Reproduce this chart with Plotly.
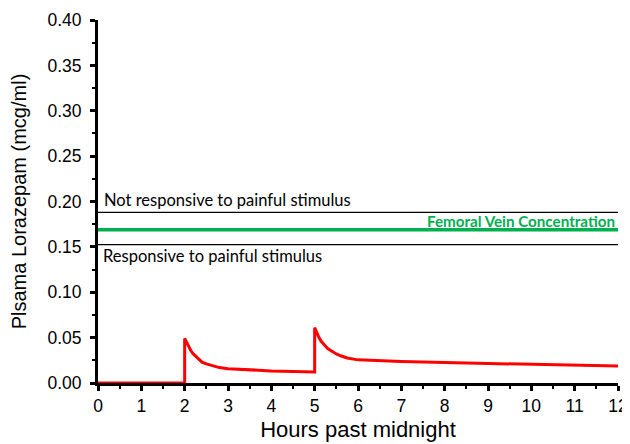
import plotly.graph_objects as go

# Plasma lorazepam concentration (mcg/ml) vs hours past midnight
hours = [0, 2, 2, 2.05, 2.1, 2.15, 2.2, 2.3, 2.4, 2.5, 2.6, 2.7, 2.8, 3.0, 3.5,
         4.0, 4.5, 5.0,
         5.0, 5.05, 5.1, 5.15, 5.2, 5.3, 5.4, 5.5, 5.6, 5.75, 6.0, 6.5, 7, 8, 9,
         10, 11, 12]
conc = [0, 0, 0.049, 0.044, 0.039, 0.035, 0.032, 0.027, 0.023, 0.021, 0.0195,
        0.018, 0.017, 0.0158, 0.0142, 0.0133, 0.0127, 0.0122,
        0.061, 0.055, 0.050, 0.046, 0.043, 0.038, 0.035, 0.032, 0.030, 0.0276,
        0.0255, 0.0243, 0.0236, 0.0225, 0.0214, 0.0204, 0.0195, 0.0186]

x_span = [0, 12]
upper_threshold = 0.188
femoral_conc = 0.169
lower_threshold = 0.1525

y_ticks = [0, 0.05, 0.10, 0.15, 0.20, 0.25, 0.30, 0.35, 0.40]
x_ticks = list(range(0, 13))

fig = go.Figure()
fig.add_trace(go.Scatter(x=x_span, y=[upper_threshold] * 2, mode="lines",
                         line=dict(color="#000000", width=1.3), hoverinfo="skip"))
fig.add_trace(go.Scatter(x=x_span, y=[lower_threshold] * 2, mode="lines",
                         line=dict(color="#000000", width=1.3), hoverinfo="skip"))
fig.add_trace(go.Scatter(x=x_span, y=[femoral_conc] * 2, mode="lines",
                         line=dict(color="#00B050", width=3.5), hoverinfo="skip"))
fig.add_trace(go.Scatter(x=hours, y=conc, mode="lines",
                         line=dict(color="#FF0000", width=3)))

ann_font = dict(family="Lato, Open Sans, sans-serif", size=16.5, color="#000000")
fig.add_annotation(x=0, y=upper_threshold, xref="x", yref="y",
                   text="Not responsive to painful stimulus", showarrow=False,
                   xanchor="left", yanchor="bottom", xshift=4, yshift=0, font=ann_font)
fig.add_annotation(x=0, y=lower_threshold, xref="x", yref="y",
                   text="Responsive to painful stimulus", showarrow=False,
                   xanchor="left", yanchor="top", xshift=3, yshift=1, font=ann_font)
fig.add_annotation(x=12, y=femoral_conc, xref="x", yref="y",
                   text="<b>Femoral Vein Concentration</b>", showarrow=False,
                   xanchor="right", yanchor="bottom", xshift=-1, yshift=-2,
                   font=dict(family="Lato, Open Sans, sans-serif", size=15.2, color="#00B050"))

tick_font = dict(family="Liberation Sans, Arial, sans-serif", size=17.5, color="#000000")
fig.update_layout(
    # page body adds an 8px margin, so the figure is 8px smaller and margins shifted
    width=622, height=436,
    margin=dict(l=90, r=12, t=12, b=61),
    paper_bgcolor="white", plot_bgcolor="white",
    showlegend=False,
    xaxis=dict(range=[0, 12], tickvals=x_ticks, ticktext=[str(v) for v in x_ticks],
               automargin=False,
               showgrid=False, zeroline=False, showline=True, linecolor="black",
               linewidth=3, ticks="outside", ticklen=5, tickwidth=3, tickcolor="black",
               minor=dict(dtick=0.5, ticks="outside", ticklen=3, tickwidth=2, tickcolor="black"),
               tickfont=tick_font,
               title=dict(text="Hours past midnight",
                          font=dict(family="Liberation Sans, Arial, sans-serif", size=22, color="#000000"),
                          standoff=7)),
    yaxis=dict(range=[0, 0.40], tickvals=y_ticks, ticktext=[f"{v:.2f}" for v in y_ticks],
               automargin=False, ticklabelstandoff=5,
               showgrid=False, zeroline=False, showline=True, linecolor="black",
               linewidth=3, ticks="outside", ticklen=5, tickwidth=3, tickcolor="black",
               minor=dict(dtick=0.025, ticks="outside", ticklen=3, tickwidth=2, tickcolor="black"),
               tickfont=tick_font,
               title=dict(text="Plsama Lorazepam (mcg/ml)",
                          font=dict(family="Liberation Sans, Arial, sans-serif", size=20, color="#000000"),
                          standoff=16)),
)

fig.write_html("out.html")
